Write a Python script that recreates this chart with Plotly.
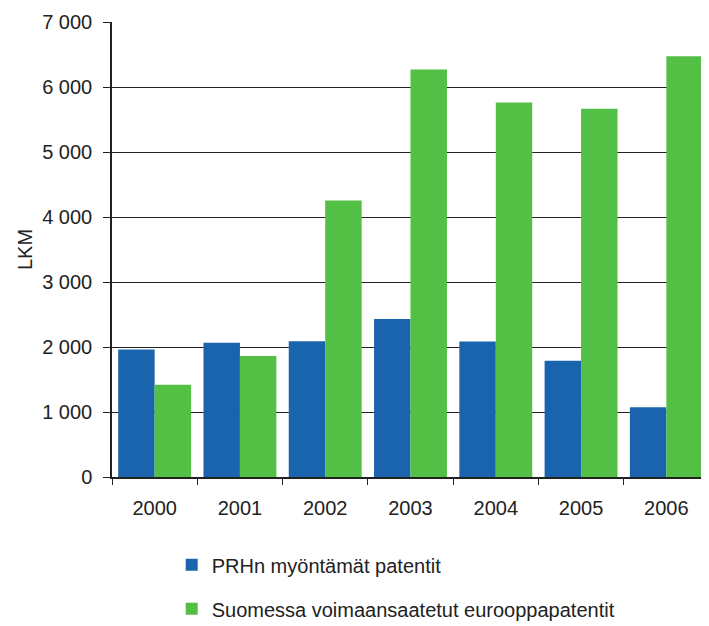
import plotly.graph_objects as go

years = ["2000", "2001", "2002", "2003", "2004", "2005", "2006"]
prh = [1960, 2065, 2090, 2430, 2085, 1790, 1075]
euro = [1420, 1860, 4255, 6270, 5760, 5665, 6475]

series_names = ["PRHn myöntämät patentit", "Suomessa voimaansaatetut eurooppapatentit"]
colors = ["#1a64ae", "#53bf45"]

fig = go.Figure()
for name, vals, col in zip(series_names, [prh, euro], colors):
    fig.add_trace(go.Bar(x=years, y=vals, name=name, marker=dict(color=col, line=dict(width=0)),
                         legendgroup=name))

font_fam = "Liberation Sans, Arial, sans-serif"
# page body has an 8px default margin, so the figure is sized to fit the window
fig.update_layout(
    width=701, height=618,
    margin=dict(l=104, r=0, t=14, b=148.5, autoexpand=False),
    paper_bgcolor="white", plot_bgcolor="white",
    barmode="group", bargap=0.145, bargroupgap=0,
    separators=", ",
    font=dict(family=font_fam, size=20, color="#222222"),
    showlegend=True,
    legend=dict(x=0.1, xanchor="left", y=-0.15, yanchor="top",
                traceorder="grouped", tracegroupgap=15,
                font=dict(size=20, color="#222222"), bgcolor="rgba(0,0,0,0)"),
    xaxis=dict(showline=True, linecolor="#222222", linewidth=1.5, automargin=False,
               ticks="outside", tickson="boundaries", ticklen=6, tickcolor="#222222",
               ticklabelstandoff=12,
               showgrid=False, tickfont=dict(size=20)),
    yaxis=dict(range=[0, 7000], dtick=1000, tickformat=",d", automargin=False,
               showline=True, linecolor="#222222", linewidth=1.5,
               ticks="outside", ticklen=7, tickcolor="#222222",
               ticklabelstandoff=7,
               showgrid=True, gridcolor="#222222", gridwidth=1.2,
               title=dict(text="LKM", font=dict(size=20), standoff=4),
               tickfont=dict(size=20), zeroline=False),
)
fig.write_html("out.html")
